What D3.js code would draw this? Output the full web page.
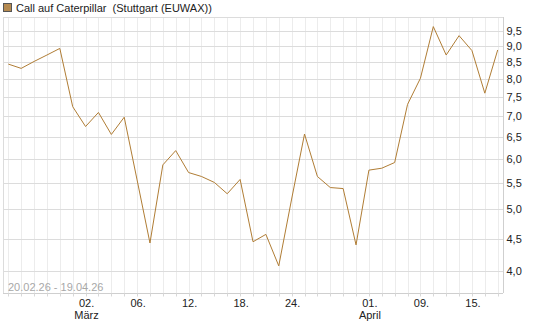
<!DOCTYPE html>
<html>
<head>
<meta charset="utf-8">
<script src="https://cdn.jsdelivr.net/npm/d3@7"></script>
<style>
  body { margin: 0; background: #fff; }
  text { font-family: "Liberation Sans", Arial, sans-serif; white-space: pre; }
</style>
</head>
<body>
<div id="chart"></div>
<script>
// trading days 20.02.26 - 17.04.26 (Good Friday / Easter Monday closed)
const dates = [
  "20.02", "23.02", "24.02", "25.02", "26.02", "27.02",
  "02.03", "03.03", "04.03", "05.03", "06.03",
  "09.03", "10.03", "11.03", "12.03", "13.03",
  "16.03", "17.03", "18.03", "19.03", "20.03",
  "23.03", "24.03", "25.03", "26.03", "27.03",
  "30.03", "31.03", "01.04", "02.04",
  "07.04", "08.04", "09.04", "10.04",
  "13.04", "14.04", "15.04", "16.04", "17.04"
]
const prices = [
  8.44, 8.31, 8.52, 8.72, 8.93, 7.24,
  6.74, 7.09, 6.55, 6.97, 5.56,
  4.43, 5.87, 6.18, 5.71, 5.63,
  5.51, 5.29, 5.57, 4.45, 4.57,
  4.08, 5.19, 6.56, 5.63, 5.41,
  5.39, 4.40, 5.76, 5.80,
  5.92, 7.30, 8.02, 9.66,
  8.72, 9.35, 8.86, 7.60, 8.88
]
const yTicks = [4.0, 4.5, 5.0, 5.5, 6.0, 6.5, 7.0, 7.5, 8.0, 8.5, 9.0, 9.5]
const dayLabels = { "02.03": "02.", "06.03": "06.", "12.03": "12.", "18.03": "18.",
                    "24.03": "24.", "01.04": "01.", "09.04": "09.", "15.04": "15." }
const monthLabels = { "02.03": "März", "01.04": "April" }
const title = "Call auf Caterpillar  (Stuttgart (EUWAX))"
const rangeText = "20.02.26 - 19.04.26"

const width = 545, height = 327
const plot = { left: 3, right: 503, top: 17, bottom: 293 }
const lineColor = "#b07d35"

const svg = d3.select("#chart").append("svg")
    .attr("width", width)
    .attr("height", height)

const x = d3.scalePoint()
    .domain(dates)
    .range([8.3, 497.7])

const y = d3.scaleLog()
    .domain([3.7, 10])
    .range([plot.bottom, plot.top])

// vertical grid, one per trading day
svg.append("g")
    .selectAll("line")
    .data(dates)
    .enter().append("line")
    .attr("x1", d => Math.round(x(d)) + 0.5)
    .attr("x2", d => Math.round(x(d)) + 0.5)
    .attr("y1", plot.top)
    .attr("y2", plot.bottom)
    .attr("stroke", "#ececec")

// horizontal grid
svg.append("g")
    .selectAll("line")
    .data(yTicks)
    .enter().append("line")
    .attr("x1", plot.left)
    .attr("x2", plot.right)
    .attr("y1", d => Math.round(y(d)) + 0.5)
    .attr("y2", d => Math.round(y(d)) + 0.5)
    .attr("stroke", "#dcdcdc")

// frame
svg.append("line")
    .attr("x1", plot.left).attr("x2", plot.right)
    .attr("y1", plot.top + 0.5).attr("y2", plot.top + 0.5)
    .attr("stroke", "#dcdcdc")
svg.append("line")
    .attr("x1", plot.left + 0.5).attr("x2", plot.left + 0.5)
    .attr("y1", plot.top).attr("y2", plot.bottom)
    .attr("stroke", "#dcdcdc")

// bottom axis
const xAxis = svg.append("g")
    .attr("transform", `translate(0,${plot.bottom + 0.5})`)
xAxis.append("line")
    .attr("x1", plot.left).attr("x2", plot.right)
    .attr("stroke", "#cfcfcf")
xAxis.selectAll(".tick")
    .data(dates)
    .enter().append("line")
    .attr("x1", d => Math.round(x(d)) + 0.5)
    .attr("x2", d => Math.round(x(d)) + 0.5)
    .attr("y1", 0).attr("y2", 3)
    .attr("stroke", "#d8d8d8")
xAxis.selectAll(".day")
    .data(dates.filter(d => dayLabels[d]))
    .enter().append("text")
    .attr("x", d => x(d) + 1)
    .attr("y", 13)
    .attr("text-anchor", "middle")
    .attr("font-size", 11)
    .attr("fill", "#222")
    .text(d => dayLabels[d])
xAxis.selectAll(".month")
    .data(dates.filter(d => monthLabels[d]))
    .enter().append("text")
    .attr("x", d => x(d) + 1)
    .attr("y", 25)
    .attr("text-anchor", "middle")
    .attr("font-size", 11)
    .attr("fill", "#222")
    .text(d => monthLabels[d])

// right axis
const yAxis = svg.append("g")
    .attr("transform", `translate(${plot.right + 0.5},0)`)
yAxis.append("line")
    .attr("y1", plot.top).attr("y2", plot.bottom)
    .attr("stroke", "#cfcfcf")
yAxis.selectAll("text")
    .data(yTicks)
    .enter().append("text")
    .attr("x", 3)
    .attr("y", d => y(d) + 4)
    .attr("font-size", 11)
    .attr("fill", "#222")
    .text(d => d.toFixed(1).replace(".", ","))

// period text
svg.append("text")
    .attr("x", 8)
    .attr("y", 291)
    .attr("font-size", 11)
    .attr("fill", "#a8a8a8")
    .text(rangeText)

// price line
const line = d3.line()
    .x((d, i) => x(dates[i]))
    .y(d => y(d))

svg.append("path")
    .datum(prices)
    .attr("d", line)
    .attr("fill", "none")
    .attr("stroke", lineColor)
    .attr("stroke-width", 1)

// legend / title
svg.append("rect")
    .attr("x", 3.5).attr("y", 3.5)
    .attr("width", 8).attr("height", 8)
    .attr("fill", "#b58a50")
    .attr("stroke", "#555")
svg.append("text")
    .attr("x", 16)
    .attr("y", 12)
    .attr("font-size", 11)
    .attr("fill", "#222")
    .text(title)
</script>
</body>
</html>
